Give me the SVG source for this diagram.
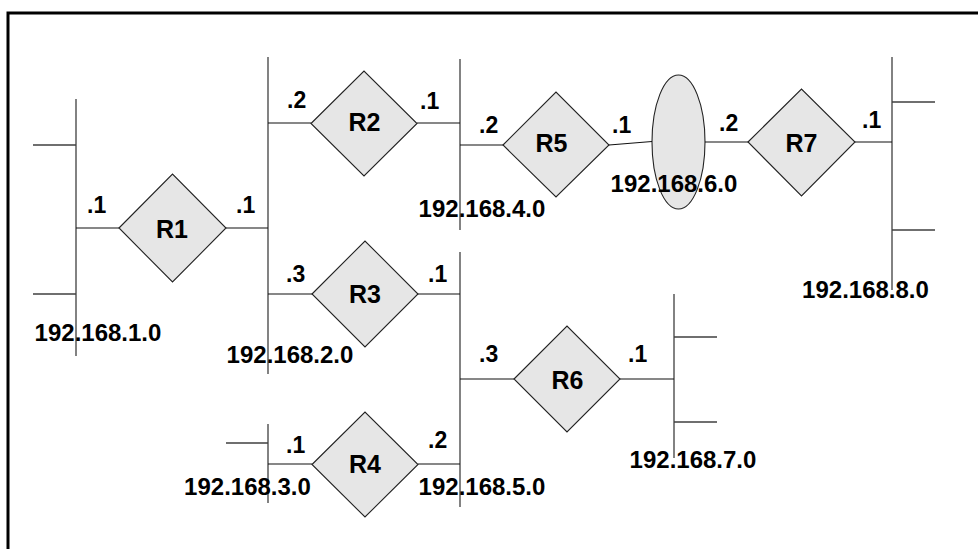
<svg xmlns="http://www.w3.org/2000/svg" width="978" height="549" viewBox="0 0 978 549">
<style>
.bus{stroke:#404040;stroke-width:1.3;fill:none}
.ln{stroke:#111;stroke-width:1.2;fill:none}
.rt{fill:#e6e6e6;stroke:#222;stroke-width:1.1}
.ip{font-family:"Liberation Sans",Arial,sans-serif;font-weight:bold;font-size:24px;fill:#000;text-anchor:middle}
.rl{font-family:"Liberation Sans",Arial,sans-serif;font-weight:bold;font-size:25px;fill:#000;text-anchor:middle}
.dl{font-family:"Liberation Sans",Arial,sans-serif;font-weight:bold;font-size:23px;fill:#000}
</style>
<rect x="0" y="0" width="978" height="549" fill="#fff"/>
<rect x="8" y="13" width="1000" height="560" fill="none" stroke="#000" stroke-width="3"/>

<g id="net1">
<path class="bus" d="M76 99V356M33 145H76M33 294H76"/>
<text class="ip" x="98" y="341">192.168.1.0</text>
</g>
<g id="net2">
<path class="bus" d="M268 57V374"/>
<text class="ip" x="290" y="363">192.168.2.0</text>
</g>
<g id="net3">
<path class="bus" d="M268 424V503M226 443H268"/>
<text class="ip" x="247.5" y="495">192.168.3.0</text>
</g>
<g id="net4">
<path class="bus" d="M460 59V230"/>
<text class="ip" x="482" y="217">192.168.4.0</text>
</g>
<g id="net5">
<path class="bus" d="M460 252V507"/>
<text class="ip" x="482" y="495">192.168.5.0</text>
</g>
<g id="net6">
<ellipse class="rt" cx="678.5" cy="142" rx="26.5" ry="67"/>
<text class="ip" x="674" y="192">192.168.6.0</text>
</g>
<g id="net7">
<path class="bus" d="M674 294V458M674 337H717M674 422H717"/>
<text class="ip" x="693" y="468">192.168.7.0</text>
</g>
<g id="net8">
<path class="bus" d="M892 57V290M892 102H935M892 230H935"/>
<text class="ip" x="865.5" y="298">192.168.8.0</text>
</g>

<g id="connectors">
<path class="ln" d="M76 228H119M226 228H268"/>
<path class="ln" d="M268 123H311M417 123H460"/>
<path class="ln" d="M268 294H312M418 294H460"/>
<path class="ln" d="M268 464H312M418 464H460"/>
<path class="ln" d="M460 145H503M609 145L652 141.5"/>
<path class="ln" d="M460 379H514M620 379H674"/>
<path class="ln" d="M705 142H748M855 142H892"/>
<text class="dl" x="87" y="213">.1</text>
<text class="dl" x="236" y="213">.1</text>
<text class="dl" x="287" y="108">.2</text>
<text class="dl" x="420" y="109">.1</text>
<text class="dl" x="286" y="282">.3</text>
<text class="dl" x="428" y="282">.1</text>
<text class="dl" x="286" y="453">.1</text>
<text class="dl" x="428" y="448">.2</text>
<text class="dl" x="479" y="133">.2</text>
<text class="dl" x="612" y="133">.1</text>
<text class="dl" x="479" y="362">.3</text>
<text class="dl" x="628" y="362">.1</text>
<text class="dl" x="719" y="131">.2</text>
<text class="dl" x="862" y="128">.1</text>
</g>

<g id="R1"><polygon class="rt" points="119,228 172.5,174 226,228 172.5,282"/><text class="rl" x="172" y="238">R1</text></g>
<g id="R2"><polygon class="rt" points="311,123.5 364,71 417,123.5 364,176"/><text class="rl" x="364.5" y="131">R2</text></g>
<g id="R3"><polygon class="rt" points="312,294 365,241 418,294 365,347"/><text class="rl" x="365" y="303">R3</text></g>
<g id="R4"><polygon class="rt" points="312,464.5 365,412 418,464.5 365,517"/><text class="rl" x="365" y="473">R4</text></g>
<g id="R5"><polygon class="rt" points="503,145 556,92 609,145 556,197"/><text class="rl" x="551.5" y="152">R5</text></g>
<g id="R6"><polygon class="rt" points="514,379 567,326 620,379 567,432"/><text class="rl" x="567.5" y="389">R6</text></g>
<g id="R7"><polygon class="rt" points="748,142 801.5,89 855,142 801.5,196"/><text class="rl" x="801.5" y="152">R7</text></g>
</svg>
